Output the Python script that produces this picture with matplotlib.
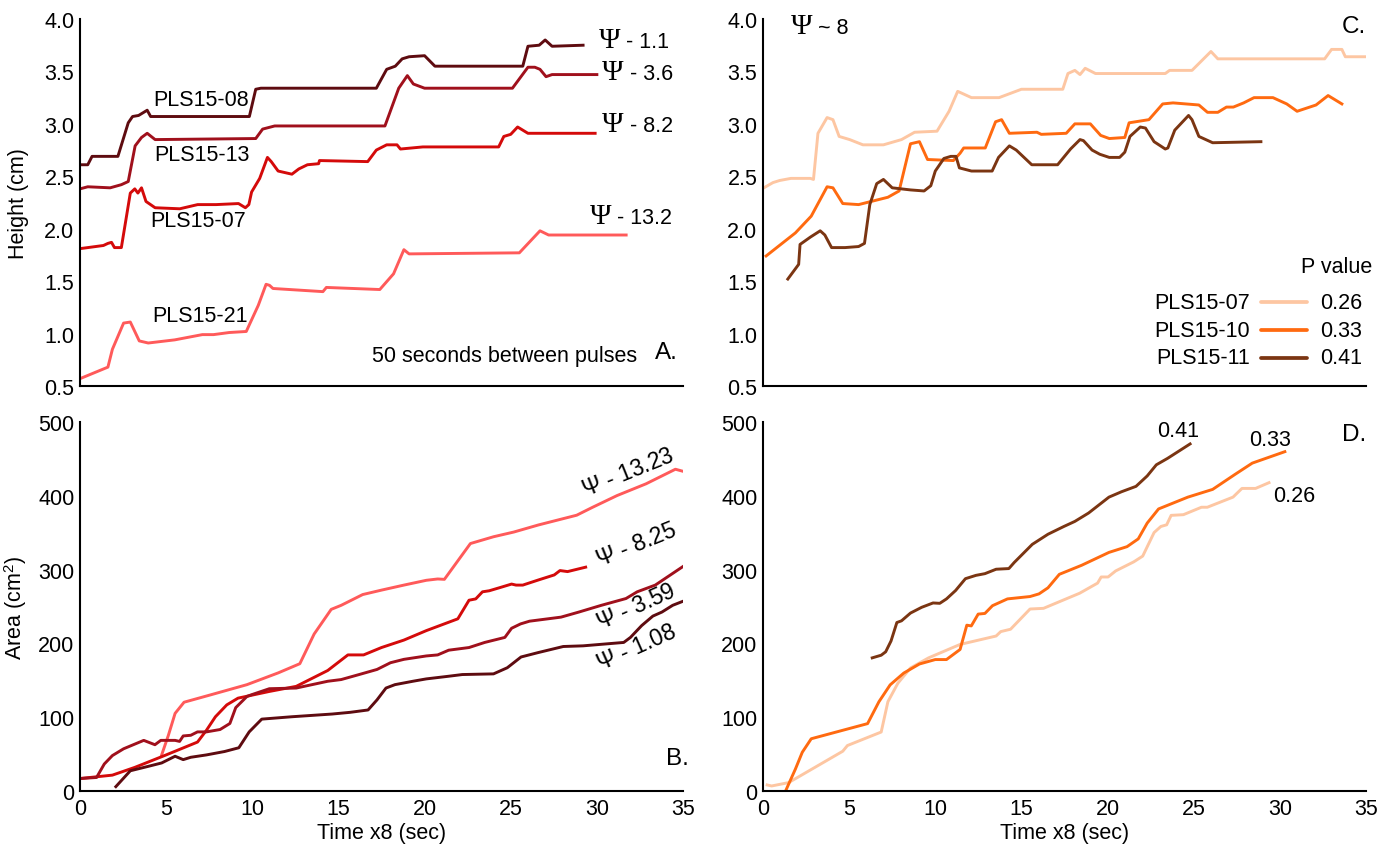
import matplotlib
matplotlib.use("Agg")
import matplotlib.pyplot as plt

plt.rcParams['font.family'] = ['Liberation Sans', 'DejaVu Sans']
plt.rcParams['mathtext.fontset'] = 'custom'
plt.rcParams['mathtext.rm'] = 'Liberation Sans'
plt.rcParams['mathtext.it'] = 'Liberation Serif:italic'
plt.rcParams['mathtext.bf'] = 'Liberation Sans:bold'

# ---------------- Panel A: height vs time (different Psi) ----------------
a08_x = [0, 0.45, 0.7, 2.2, 2.8, 3.05, 3.4, 3.9, 4.1, 9.83, 10.2, 10.5, 17.2, 17.8, 18.3, 18.7, 19.1, 20.0, 20.6, 25.7, 26.0, 26.65, 27.0, 27.4, 29.2]
a08_y = [2.61, 2.61, 2.69, 2.69, 3.01, 3.07, 3.08, 3.13, 3.07, 3.07, 3.33, 3.34, 3.34, 3.52, 3.55, 3.62, 3.64, 3.65, 3.55, 3.55, 3.74, 3.75, 3.80, 3.74, 3.75]

a13_x = [0, 0.45, 1.75, 2.4, 2.8, 3.2, 3.57, 3.9, 4.36, 10.2, 10.6, 11.3, 17.7, 18.5, 19.0, 19.35, 20.0, 25.1, 26.0, 26.4, 26.7, 27.05, 27.4, 30.0]
a13_y = [2.38, 2.40, 2.39, 2.42, 2.45, 2.79, 2.87, 2.91, 2.85, 2.86, 2.95, 2.98, 2.98, 3.34, 3.46, 3.38, 3.34, 3.34, 3.54, 3.54, 3.52, 3.45, 3.47, 3.47]

a07_x = [0, 1.36, 1.62, 1.83, 2.0, 2.4, 2.92, 3.18, 3.36, 3.57, 3.83, 4.36, 5.79, 6.83, 7.9, 9.2, 9.6, 9.8, 9.96, 10.43, 10.88, 11.1, 11.5, 12.3, 12.7, 13.2, 13.85, 13.9, 16.7, 17.2, 17.8, 18.4, 18.6, 19.9, 24.3, 24.6, 25.0, 25.4, 26.0, 29.9]
a07_y = [1.81, 1.84, 1.86, 1.87, 1.82, 1.82, 2.34, 2.38, 2.34, 2.39, 2.26, 2.20, 2.19, 2.23, 2.23, 2.24, 2.20, 2.23, 2.35, 2.48, 2.68, 2.64, 2.55, 2.52, 2.57, 2.61, 2.62, 2.65, 2.64, 2.75, 2.80, 2.80, 2.76, 2.78, 2.78, 2.88, 2.90, 2.97, 2.91, 2.91]

a21_x = [0, 1.62, 1.88, 2.53, 2.92, 3.44, 3.96, 5.5, 7.1, 7.75, 8.66, 9.65, 10.35, 10.8, 11.0, 11.2, 14.1, 14.3, 17.4, 18.2, 18.8, 19.1, 25.5, 26.7, 27.2, 31.7]
a21_y = [0.57, 0.68, 0.85, 1.10, 1.11, 0.93, 0.91, 0.94, 0.99, 0.99, 1.01, 1.02, 1.27, 1.47, 1.46, 1.43, 1.40, 1.44, 1.42, 1.57, 1.80, 1.76, 1.77, 1.98, 1.94, 1.94]

a_names = ["PLS15-08", "PLS15-13", "PLS15-07", "PLS15-21"]
a_psi = ["1.1", "3.6", "8.2", "13.2"]

# ---------------- Panel B: area vs time (different Psi) ----------------
b108_x = [2.08, 2.92, 3.96, 4.74, 5.52, 5.99, 6.43, 7.34, 8.39, 9.22, 9.82, 10.55, 12.29, 14.64, 15.68, 16.72, 17.24, 17.76, 18.28, 19.32, 20.1, 21.4, 22.19, 24.0, 24.8, 25.6, 26.6, 28.05, 29.2, 31.56, 31.95, 32.6, 33.25, 33.78, 34.4, 35.0]
b108_y = [5.9, 27.4, 33.4, 38.0, 47.1, 42.5, 45.7, 48.9, 53.5, 58.6, 80.1, 97.4, 100.6, 104.3, 106.6, 109.8, 123.5, 139.5, 144.1, 148.7, 151.9, 155.5, 157.8, 158.7, 167.0, 181.6, 187.6, 195.8, 196.7, 201.3, 208.1, 224.1, 237.0, 242.5, 251.6, 257.1]

b359_x = [0, 0.96, 1.41, 1.88, 2.53, 3.70, 4.35, 4.69, 5.52, 5.78, 5.99, 6.43, 6.82, 7.34, 8.13, 8.7, 9.04, 9.69, 9.95, 10.99, 12.55, 14.38, 15.16, 16.2, 17.24, 18.02, 18.8, 20.1, 20.76, 21.4, 22.58, 23.49, 24.66, 25.05, 25.57, 26.09, 27.92, 28.96, 30.26, 31.69, 32.34, 33.39, 35.0]
b359_y = [16.9, 18.3, 36.6, 48.0, 57.2, 68.6, 62.7, 68.6, 68.6, 67.2, 74.6, 75.5, 80.1, 80.1, 83.3, 91.5, 113.0, 128.1, 130.4, 138.6, 139.5, 148.7, 151.0, 157.8, 164.7, 173.8, 178.4, 183.0, 184.4, 190.8, 194.4, 201.3, 208.1, 220.5, 226.4, 230.1, 235.6, 242.5, 251.6, 260.8, 269.9, 279.0, 304.2]

b825_x = [0, 1.88, 3.18, 5.0, 6.82, 7.34, 7.86, 8.52, 9.17, 10.99, 12.55, 14.38, 15.55, 16.46, 17.5, 18.8, 20.1, 21.93, 22.32, 22.58, 22.97, 23.36, 23.75, 24.4, 25.05, 25.31, 25.7, 26.6, 27.53, 27.86, 28.3, 28.7, 29.35]
b825_y = [16.9, 21.5, 32.0, 48.9, 66.3, 82.3, 100.6, 116.7, 125.8, 134.9, 141.8, 163.3, 184.4, 184.4, 194.4, 204.5, 217.3, 233.3, 248.4, 258.5, 260.3, 269.9, 271.3, 275.8, 280.4, 279.0, 279.0, 285.9, 292.8, 298.7, 297.3, 299.6, 303.3]

b1323_x = [4.74, 5.13, 5.52, 6.04, 7.6, 9.69, 11.51, 12.76, 13.59, 14.58, 15.16, 16.41, 17.5, 18.8, 20.1, 20.76, 21.15, 22.66, 24.0, 25.18, 26.61, 28.83, 29.74, 31.17, 32.86, 34.56, 35.0]
b1323_y = [48.9, 75.5, 105.2, 120.3, 130.4, 144.1, 160.1, 172.5, 212.7, 246.1, 251.6, 266.2, 272.2, 279.0, 285.5, 287.3, 286.8, 335.3, 344.5, 350.9, 360.5, 373.7, 384.3, 400.3, 416.3, 436.0, 433.2]

b_psi = ["13.23", "8.25", "3.59", "1.08"]

# ---------------- Panel C: height vs time (Psi ~ 8, different P) ----------------
c07_x = [0.05, 0.58, 0.97, 1.62, 2.75, 2.93, 3.19, 3.72, 4.06, 4.42, 5.03, 5.8, 6.99, 8.04, 8.8, 10.1, 10.8, 11.3, 11.57, 12.1, 13.7, 15.0, 17.4, 17.7, 18.1, 18.4, 18.7, 19.3, 23.35, 23.6, 24.9, 26.0, 26.4, 32.6, 33.0, 33.6, 33.8, 35.0]
c07_y = [2.39, 2.44, 2.46, 2.48, 2.48, 2.47, 2.91, 3.06, 3.04, 2.88, 2.85, 2.80, 2.80, 2.85, 2.92, 2.93, 3.12, 3.31, 3.29, 3.25, 3.25, 3.33, 3.33, 3.48, 3.51, 3.47, 3.53, 3.48, 3.48, 3.51, 3.51, 3.69, 3.62, 3.62, 3.71, 3.71, 3.64, 3.64]

c10_x = [0.18, 1.88, 2.8, 3.72, 4.06, 4.63, 5.55, 7.25, 7.9, 8.56, 9.08, 9.55, 11.05, 11.44, 11.65, 12.9, 13.5, 13.85, 14.3, 15.9, 16.15, 17.6, 18.1, 19.0, 19.6, 20.1, 21.0, 21.25, 22.4, 23.2, 23.8, 25.3, 25.8, 26.4, 26.9, 27.3, 27.9, 28.5, 29.6, 30.4, 31.0, 32.1, 32.8, 33.6]
c10_y = [1.74, 1.96, 2.12, 2.40, 2.39, 2.24, 2.23, 2.30, 2.36, 2.81, 2.83, 2.66, 2.65, 2.72, 2.77, 2.77, 3.02, 3.04, 2.91, 2.92, 2.90, 2.91, 3.00, 3.00, 2.89, 2.86, 2.87, 3.01, 3.04, 3.19, 3.20, 3.18, 3.11, 3.11, 3.16, 3.16, 3.20, 3.25, 3.25, 3.19, 3.12, 3.18, 3.27, 3.19]

c11_x = [1.44, 2.07, 2.15, 2.75, 3.32, 3.59, 3.98, 4.76, 5.55, 5.89, 6.2, 6.6, 6.99, 7.5, 8.56, 9.35, 9.74, 10.0, 10.5, 10.9, 11.2, 11.4, 12.1, 13.3, 13.67, 14.3, 14.7, 15.6, 17.1, 17.85, 18.4, 18.6, 19.1, 19.55, 20.1, 20.7, 21.0, 21.3, 21.9, 22.2, 22.7, 23.35, 23.5, 23.9, 24.7, 24.9, 25.3, 26.1, 28.9]
c11_y = [1.52, 1.66, 1.85, 1.92, 1.98, 1.94, 1.82, 1.82, 1.83, 1.86, 2.23, 2.43, 2.47, 2.39, 2.37, 2.36, 2.41, 2.55, 2.67, 2.69, 2.69, 2.58, 2.55, 2.55, 2.68, 2.79, 2.75, 2.61, 2.61, 2.76, 2.85, 2.84, 2.75, 2.71, 2.68, 2.68, 2.73, 2.88, 2.97, 2.96, 2.83, 2.76, 2.77, 2.94, 3.08, 3.04, 2.88, 2.82, 2.83]

cd_names = ["PLS15-07", "PLS15-10", "PLS15-11"]
cd_p = ["0.26", "0.33", "0.41"]

# ---------------- Panel D: area vs time (Psi ~ 8, different P) ----------------
d07_x = [0.24, 0.5, 1.49, 4.63, 4.9, 6.86, 7.25, 7.83, 8.56, 9.61, 11.44, 13.53, 13.8, 14.37, 15.5, 16.28, 18.38, 19.42, 19.63, 20.03, 20.47, 21.52, 22.04, 22.7, 23.09, 23.43, 23.69, 24.4, 25.45, 25.79, 27.28, 27.8, 28.59, 29.37]
d07_y = [8.2, 6.8, 11.4, 53.9, 61.6, 79.9, 121.0, 146.1, 166.7, 180.4, 198.6, 210.0, 216.0, 219.2, 246.6, 247.5, 268.0, 281.7, 290.0, 290.0, 298.2, 310.5, 318.3, 350.2, 358.4, 360.7, 373.5, 374.4, 384.5, 384.5, 398.2, 410.0, 410.0, 417.8]

d10_x = [1.31, 1.88, 2.28, 2.8, 6.07, 6.73, 7.38, 8.17, 9.08, 10.0, 10.65, 11.44, 11.83, 12.09, 12.49, 12.88, 13.32, 14.19, 15.5, 16.02, 16.54, 17.2, 18.5, 20.08, 21.13, 21.78, 22.3, 22.96, 24.66, 26.1, 27.41, 28.4, 30.29]
d10_y = [0, 29.7, 52.5, 70.8, 91.3, 121.0, 143.8, 159.8, 172.1, 178.1, 178.1, 191.8, 224.7, 223.7, 239.7, 240.6, 251.1, 260.3, 263.5, 267.1, 275.3, 293.6, 305.9, 323.3, 331.1, 341.6, 363.0, 382.2, 398.2, 408.7, 429.2, 444.3, 459.8]

d11_x = [6.34, 6.86, 7.12, 7.43, 7.77, 8.04, 8.56, 9.21, 9.87, 10.26, 10.65, 11.18, 11.75, 12.36, 12.88, 13.53, 14.27, 14.58, 15.63, 16.54, 17.46, 18.1, 18.9, 20.08, 20.81, 21.65, 22.3, 22.83, 23.48, 24.79]
d11_y = [180.4, 184.0, 188.6, 203.2, 228.3, 230.6, 241.1, 248.9, 254.8, 254.3, 260.3, 271.7, 287.7, 292.2, 294.5, 300.5, 301.4, 309.6, 334.2, 347.9, 358.4, 365.3, 376.7, 398.2, 405.5, 412.8, 426.9, 442.0, 450.7, 470.3]

x_ticks = [0, 5, 10, 15, 20, 25, 30, 35]
h_ticks = [0.5, 1.0, 1.5, 2.0, 2.5, 3.0, 3.5, 4.0]
a_ticks = [0, 100, 200, 300, 400, 500]

# ---------------- styling ----------------
maroon, dred, red, pink = "#5e0b10", "#a0101c", "#d40a0a", "#ff5a5a"
peach, orange, brown = "#fdc6a2", "#ff6a10", "#7b3512"
LW = 2.1
FS = 15.5

W, H = 1392, 845
fig = plt.figure(figsize=(W / 100, H / 100), dpi=100)

def box(l, r, t, b):
    return [l / W, 1 - b / H, (r - l) / W, (b - t) / H]

axA = fig.add_axes(box(80, 683, 20, 387))
axB = fig.add_axes(box(80, 683, 423, 792))
axC = fig.add_axes(box(763, 1366, 20, 387))
axD = fig.add_axes(box(763, 1366, 423, 792))

for ax in (axA, axB, axC, axD):
    for s in ("top", "right"):
        ax.spines[s].set_visible(False)
    for s in ("left", "bottom"):
        ax.spines[s].set_linewidth(1.5)
    ax.set_xlim(0, 35)
    ax.tick_params(length=0, labelsize=FS)
    ax.tick_params(axis="y", pad=4)
    ax.tick_params(axis="x", pad=5)
    ax.set_xticks(x_ticks)

for ax in (axA, axC):
    ax.set_ylim(0.5, 4.0)
    ax.set_yticks(h_ticks)
    ax.set_yticklabels([f"{v:.1f}" for v in h_ticks])
    ax.set_xticklabels([])
for ax in (axB, axD):
    ax.set_ylim(0, 500)
    ax.set_yticks(a_ticks)
    ax.set_xlabel("Time x8 (sec)", fontsize=FS, labelpad=2)

axA.set_ylabel("Height (cm)", fontsize=FS)
axA.yaxis.set_label_coords(-0.085, 0.5)
axB.set_ylabel("Area (cm$^2$)", fontsize=FS)
axB.yaxis.set_label_coords(-0.085, 0.5)

# ---- Panel A ----
for xs, ys, c in ((a21_x, a21_y, pink), (a07_x, a07_y, red), (a13_x, a13_y, dred), (a08_x, a08_y, maroon)):
    axA.plot(xs, ys, color=c, lw=LW, solid_joinstyle="round")

for name, (tx, ty) in zip(a_names, [(7.0, 3.23), (7.1, 2.71), (6.85, 2.08), (6.95, 1.17)]):
    axA.text(tx, ty, name, fontsize=FS, ha="center", va="center")

def psi_label(ax, x, y, val, sep, fs_psi=21, fs=FS):
    t = ax.text(x, y, "Ψ", family="Liberation Serif", fontsize=fs_psi, ha="left", va="center")
    ax.annotate(f" {sep} {val}", xy=(1, 0.45), xycoords=t, fontsize=fs, ha="left", va="center")

for val, (tx, ty) in zip(a_psi, [(30.1, 3.80), (30.3, 3.49), (30.3, 3.00), (29.6, 2.12)]):
    psi_label(axA, tx, ty, val, "-")

axA.text(32.35, 0.79, "50 seconds between pulses", fontsize=FS, ha="right", va="center")
axA.text(33.4, 0.82, "A.", fontsize=17.5, ha="left", va="center")

# ---- Panel B ----
for xs, ys, c in ((b1323_x, b1323_y, pink), (b825_x, b825_y, red), (b359_x, b359_y, dred), (b108_x, b108_y, maroon)):
    axB.plot(xs, ys, color=c, lw=LW, solid_joinstyle="round")

for val, (tx, ty), rot in zip(b_psi, [(31.8, 432), (32.3, 334), (32.3, 250), (32.3, 195)], [22, 22, 24, 24]):
    axB.text(tx, ty, r"$\mathit{Ψ}$" + f" - {val}", fontsize=FS + 1, rotation=rot,
             rotation_mode="anchor", ha="center", va="center")

axB.text(34.0, 45, "B.", fontsize=17.5, ha="left", va="center")

# ---- Panel C ----
for xs, ys, c in ((c07_x, c07_y, peach), (c10_x, c10_y, orange), (c11_x, c11_y, brown)):
    axC.plot(xs, ys, color=c, lw=LW, solid_joinstyle="round")

psi_label(axC, 1.6, 3.93, "8", "~")
axC.text(35.0, 3.93, "C.", fontsize=17.5, ha="right", va="center")
axC.text(35.35, 1.64, "P value", fontsize=FS, ha="right", va="center")
for name, pv, c, yy in zip(cd_names, cd_p, (peach, orange, brown), (1.30, 1.03, 0.77)):
    axC.text(28.27, yy, name, fontsize=FS, ha="right", va="center")
    axC.plot([28.9, 31.6], [yy, yy], color=c, lw=LW + 0.6, solid_capstyle="round")
    axC.text(32.33, yy, pv, fontsize=FS, ha="left", va="center")

# ---- Panel D ----
for xs, ys, c in ((d07_x, d07_y, peach), (d10_x, d10_y, orange), (d11_x, d11_y, brown)):
    axD.plot(xs, ys, color=c, lw=LW, solid_joinstyle="round")

axD.text(24.1, 488, cd_p[2], fontsize=FS, ha="center", va="center")
axD.text(28.2, 476, cd_p[1], fontsize=FS, ha="left", va="center")
axD.text(29.6, 400, cd_p[0], fontsize=FS, ha="left", va="center")
axD.text(35.0, 484, "D.", fontsize=17.5, ha="right", va="center")

fig.savefig("out.png", dpi=100)
